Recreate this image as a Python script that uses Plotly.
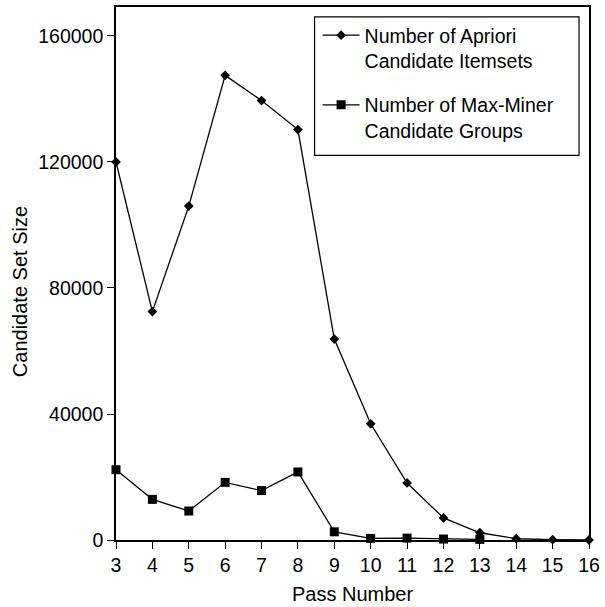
import plotly.graph_objects as go

# Pass numbers on the x axis
passes = [3, 4, 5, 6, 7, 8, 9, 10, 11, 12, 13, 14, 15, 16]

# Apriori candidate itemsets per pass
apriori_counts = [120000, 72500, 106000, 147500, 139500, 130300, 63800,
                  36900, 18100, 7000, 2300, 400, 100, 0]

# Max-Miner candidate groups per pass (passes 3..13)
maxminer_passes = [3, 4, 5, 6, 7, 8, 9, 10, 11, 12, 13]
maxminer_counts = [22300, 12900, 9200, 18300, 15700, 21600, 2600,
                   500, 600, 300, 200]

y_ticks = [0, 40000, 80000, 120000, 160000]
x_ticks = passes

FONT = "Liberation Sans, Arial, Helvetica, sans-serif"

fig = go.Figure()
fig.add_trace(go.Scatter(
    x=passes, y=apriori_counts, mode="lines+markers",
    name="Number of Apriori<br>Candidate Itemsets",
    legendgroup="a",
    line=dict(color="black", width=1.3),
    marker=dict(symbol="diamond", size=7.5, color="black"),
    cliponaxis=False,
))
fig.add_trace(go.Scatter(
    x=maxminer_passes, y=maxminer_counts, mode="lines+markers",
    name="Number of Max-Miner<br>Candidate Groups",
    legendgroup="b",
    line=dict(color="black", width=1.3),
    marker=dict(symbol="square", size=9, color="black"),
    cliponaxis=False,
))

# Boxed frame around the legend entries
fig.add_shape(
    type="rect", xref="paper", yref="paper",
    x0=0.4198, x1=0.9789, y0=0.7215, y1=0.9813,
    line=dict(color="black", width=1.2),
    fillcolor="white", layer="above",
)

# Y-axis title
fig.add_annotation(
    text="Candidate Set Size", xref="paper", yref="paper",
    x=-0.2025, y=0.4654, xanchor="center", yanchor="middle",
    textangle=-90, showarrow=False, font=dict(size=20),
)

fig.update_layout(
    width=605, height=607,
    margin=dict(l=116, r=15, t=5, b=67),
    paper_bgcolor="white", plot_bgcolor="white",
    font=dict(family=FONT, color="black", size=20),
    showlegend=True,
    legend=dict(
        x=0.4262, y=0.9832, xanchor="left", yanchor="top",
        borderwidth=0, bgcolor="rgba(0,0,0,0)",
        font=dict(size=19.5),
        tracegroupgap=16,
        itemwidth=37,
        valign="top",
        traceorder="grouped",
    ),
    xaxis=dict(
        range=[3, 16], tickvals=x_ticks,
        showline=True, linecolor="black", linewidth=1.6, mirror=True,
        ticks="outside", ticklen=7, tickwidth=1, tickcolor="black",
        showgrid=False, zeroline=False,
        tickfont=dict(size=19.5),
        title=dict(text="Pass Number", font=dict(size=20), standoff=12),
    ),
    yaxis=dict(
        range=[0, 169200], tickvals=y_ticks, tickformat="d",
        showline=True, linecolor="black", linewidth=1.6, mirror=True,
        ticks="outside", ticklen=7, tickwidth=1, tickcolor="black",
        showgrid=False, zeroline=False,
        tickfont=dict(size=19.5),
    ),
)

fig.write_html("out.html")
